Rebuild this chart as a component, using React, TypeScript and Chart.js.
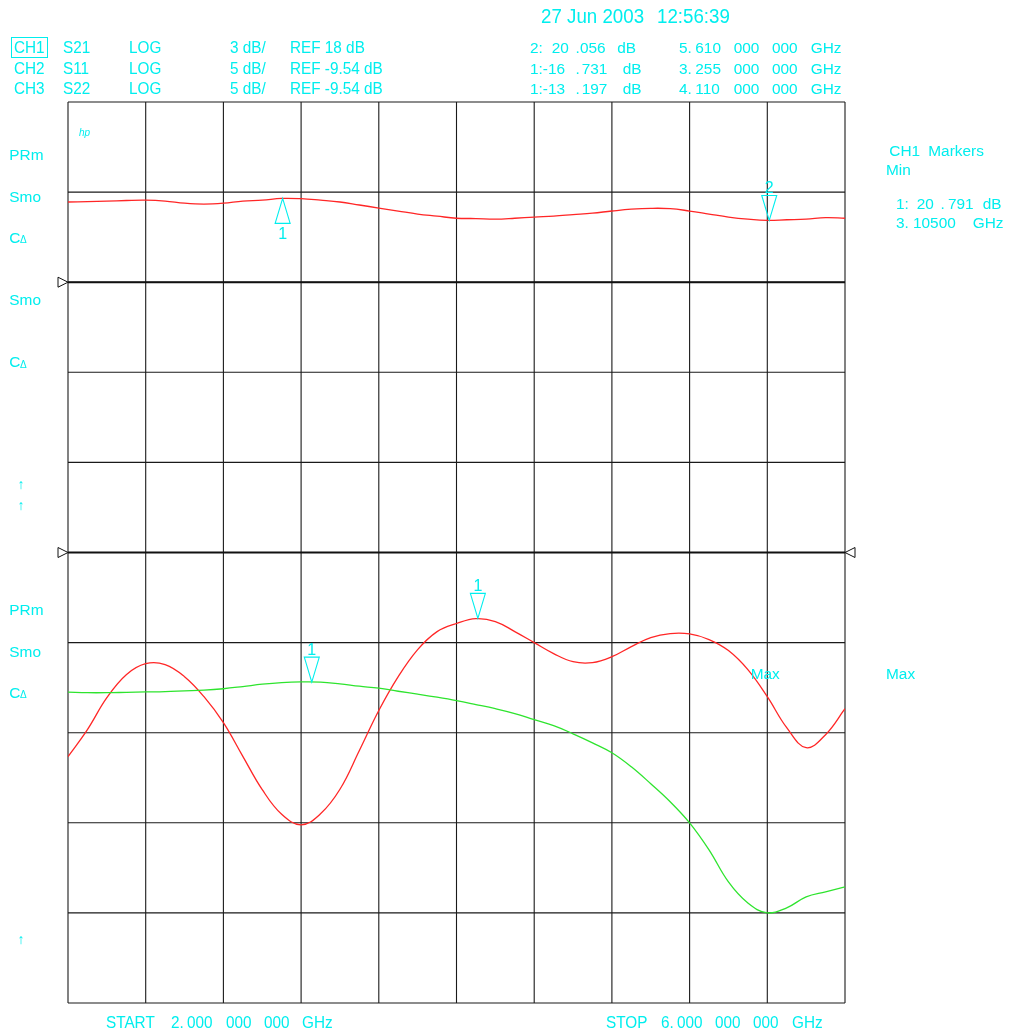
import React, { useEffect, useRef } from "react";
import { Chart, registerables } from "chart.js";

Chart.register(...registerables);

// ---- data ----
const FREQ_GHZ = [
  2.0, 2.1, 2.2, 2.3, 2.4, 2.5, 2.6, 2.7, 2.8, 2.9,
  3.0, 3.1, 3.2, 3.3, 3.4, 3.5, 3.6, 3.7, 3.8, 3.9,
  4.0, 4.1, 4.2, 4.3, 4.4, 4.5, 4.6, 4.7, 4.8, 4.9,
  5.0, 5.1, 5.2, 5.3, 5.4, 5.5, 5.6, 5.7, 5.8, 5.9, 6.0,
];
const CH1_S21_DB = [
  20.67, 20.68, 20.70, 20.72, 20.73, 20.70, 20.63, 20.60, 20.63, 20.70,
  20.73, 20.79, 20.78, 20.73, 20.67, 20.57, 20.47, 20.37, 20.27, 20.20,
  20.13, 20.12, 20.10, 20.13, 20.17, 20.20, 20.25, 20.30, 20.37, 20.43,
  20.46, 20.45, 20.37, 20.27, 20.17, 20.10, 20.06, 20.08, 20.10, 20.15, 20.13,
];
const CH2_S11_DB = [
  -17.29, -17.32, -17.32, -17.30, -17.28, -17.26, -17.22, -17.18, -17.10, -16.98,
  -16.85, -16.76, -16.72, -16.73, -16.83, -16.96, -17.07, -17.24, -17.40, -17.57,
  -17.76, -17.98, -18.21, -18.48, -18.82, -19.15, -19.60, -20.10, -20.65, -21.43,
  -22.37, -23.37, -24.54, -26.04, -27.82, -28.99, -29.54, -29.26, -28.65, -28.37, -28.10,
];
const CH3_S22_DB = [
  -20.87, -19.37, -17.60, -16.32, -15.71, -15.76, -16.43, -17.54, -18.98, -20.85,
  -22.70, -24.07, -24.65, -24.04, -22.68, -20.53, -18.31, -16.43, -14.93, -13.93,
  -13.48, -13.21, -13.37, -13.93, -14.54, -15.15, -15.60, -15.65, -15.32, -14.76,
  -14.26, -14.04, -14.06, -14.37, -14.98, -16.04, -17.54, -19.26, -20.37, -19.65, -18.21,
];
const X_GRID_GHZ = [2.0, 2.4, 2.8, 3.2, 3.6, 4.0, 4.4, 4.8, 5.2, 5.6, 6.0];
const CH1_REF_DB = 18;
const CH1_DB_PER_DIV = 3;
const CH23_REF_DB = -9.54;
const CH23_DB_PER_DIV = 5;
const CH1_GRID_DB = [24, 21, 18, 15, 12, 9, 6, 3, 0, -3, -6];
const MARKERS = [
  { axis: "y1", f: 3.105, db: 20.791, dir: "up", label: "1" },
  { axis: "y1", f: 5.61, db: 20.056, dir: "down", label: "2" },
  { axis: "y2", f: 3.255, db: -16.731, dir: "down", label: "1" },
  { axis: "y2", f: 4.11, db: -13.197, dir: "down", label: "1" },
];

const CYAN = "#00eeee";
const RED = "#ff2626";
const GREEN = "#2ee42e";
const FONT = '"Liberation Sans", Arial, sans-serif';

const gridPlugin = {
  id: "vnaGrid",
  beforeDatasetsDraw(chart: any) {
    const { ctx, chartArea: a, scales } = chart;
    const x = scales.x;
    const y1 = scales.y1;
    const y2 = scales.y2;
    ctx.save();
    ctx.strokeStyle = "#1a1a1a";
    ctx.lineWidth = 1.1;
    for (const v of X_GRID_GHZ) {
      const px = x.getPixelForValue(v);
      ctx.beginPath();
      ctx.moveTo(px, a.top);
      ctx.lineTo(px, a.bottom);
      ctx.stroke();
    }
    for (const v of CH1_GRID_DB) {
      const py = y1.getPixelForValue(v);
      ctx.beginPath();
      ctx.moveTo(a.left, py);
      ctx.lineTo(a.right, py);
      ctx.stroke();
    }
    ctx.lineWidth = 2;
    ctx.strokeStyle = "#111";
    for (const py of [y1.getPixelForValue(CH1_REF_DB), y2.getPixelForValue(CH23_REF_DB)]) {
      ctx.beginPath();
      ctx.moveTo(a.left, py);
      ctx.lineTo(a.right, py);
      ctx.stroke();
    }
    ctx.restore();
  },
  afterDraw(chart: any) {
    const { ctx, chartArea: a, scales } = chart;
    const x = scales.x;
    ctx.save();
    // markers
    ctx.strokeStyle = CYAN;
    ctx.fillStyle = CYAN;
    ctx.lineWidth = 1.1;
    ctx.font = `16px ${FONT}`;
    ctx.textAlign = "center";
    ctx.textBaseline = "alphabetic";
    for (const m of MARKERS) {
      const px = x.getPixelForValue(m.f);
      const py = scales[m.axis].getPixelForValue(m.db);
      ctx.beginPath();
      if (m.dir === "down") {
        ctx.moveTo(px - 7.5, py - 25);
        ctx.lineTo(px + 7.5, py - 25);
        ctx.lineTo(px, py);
        ctx.closePath();
        ctx.stroke();
        ctx.fillText(m.label, px, py - 27);
      } else {
        ctx.moveTo(px - 7.5, py + 25);
        ctx.lineTo(px + 7.5, py + 25);
        ctx.lineTo(px, py);
        ctx.closePath();
        ctx.stroke();
        ctx.fillText(m.label, px, py + 41);
      }
    }
    // reference position triangles
    ctx.strokeStyle = "#111";
    ctx.fillStyle = "#fff";
    ctx.lineWidth = 1;
    const r1 = scales.y1.getPixelForValue(CH1_REF_DB);
    const r2 = scales.y2.getPixelForValue(CH23_REF_DB);
    const tri = (ax: number, ay: number, dx: number) => {
      ctx.beginPath();
      ctx.moveTo(ax, ay);
      ctx.lineTo(ax + dx, ay - 5);
      ctx.lineTo(ax + dx, ay + 5);
      ctx.closePath();
      ctx.fill();
      ctx.stroke();
    };
    tri(a.left, r1, -10);
    tri(a.left, r2, -10);
    tri(a.right, r2, 10);
    ctx.restore();
  },
};

function T(props: { x: number; y: number; s?: number; sx?: number; italic?: boolean; children: any }) {
  const s = props.s ?? 15.4;
  const sx = props.sx ?? 1;
  return (
    <span
      style={{
        position: "absolute",
        left: props.x,
        top: props.y - 0.1305 * s,
        fontSize: s,
        lineHeight: `${s}px`,
        fontFamily: FONT,
        fontStyle: props.italic ? "italic" : "normal",
        color: CYAN,
        whiteSpace: "pre",
        transform: sx !== 1 ? `scaleX(${sx})` : undefined,
        transformOrigin: "left top",
      }}
    >
      {props.children}
    </span>
  );
}

export default function App() {
  const ref = useRef<HTMLCanvasElement | null>(null);

  useEffect(() => {
    if (!ref.current) return;
    const mk = (vals: number[]) => FREQ_GHZ.map((f, i) => ({ x: f, y: vals[i] }));
    const common = { borderWidth: 1.3, pointRadius: 0, tension: 0.4, fill: false };
    const chart = new Chart(ref.current, {
      type: "line",
      data: {
        datasets: [
          { label: "CH1 S21", data: mk(CH1_S21_DB), yAxisID: "y1", borderColor: RED, ...common },
          { label: "CH2 S11", data: mk(CH2_S11_DB), yAxisID: "y2", borderColor: GREEN, ...common },
          { label: "CH3 S22", data: mk(CH3_S22_DB), yAxisID: "y2", borderColor: RED, ...common },
        ],
      },
      options: {
        animation: false,
        responsive: false,
        devicePixelRatio: 1,
        layout: { padding: { left: 68, top: 102, right: 165, bottom: 31 } },
        plugins: { legend: { display: false }, tooltip: { enabled: false } },
        events: [],
        scales: {
          x: { type: "linear", min: 2, max: 6, display: false },
          y1: {
            type: "linear",
            min: CH1_REF_DB - 8 * CH1_DB_PER_DIV,
            max: CH1_REF_DB + 2 * CH1_DB_PER_DIV,
            display: false,
          },
          y2: {
            type: "linear",
            min: CH23_REF_DB - 5 * CH23_DB_PER_DIV,
            max: CH23_REF_DB + 5 * CH23_DB_PER_DIV,
            display: false,
          },
        },
      },
      plugins: [gridPlugin],
    } as any);
    return () => chart.destroy();
  }, []);

  const H = 17;
  const HX = 0.9;
  return (
    <div style={{ position: "absolute", left: 0, top: 0, width: 1010, height: 1034, background: "#fff", overflow: "hidden" }}>
      <canvas ref={ref} width={1010} height={1034} style={{ position: "absolute", left: 0, top: 0, width: 1010, height: 1034 }} />

      {/* date */}
      <T x={540.7} y={9.3} s={19.5} sx={0.96}>27 Jun 2003</T>
      <T x={656.7} y={9.3} s={19.5} sx={0.96}>12:56:39</T>

      {/* channel header */}
      <div style={{ position: "absolute", left: 10.5, top: 36.5, width: 35, height: 19.5, border: `1px solid ${CYAN}` }} />
      <T x={14} y={41.7} s={H} sx={HX}>CH1</T>
      <T x={63.3} y={41.7} s={H} sx={HX}>S21</T>
      <T x={129} y={41.7} s={H} sx={HX}>LOG</T>
      <T x={230} y={41.7} s={H} sx={HX}>3 dB/</T>
      <T x={290} y={41.7} s={H} sx={HX}>REF 18 dB</T>

      <T x={14} y={62.3} s={H} sx={HX}>CH2</T>
      <T x={63.3} y={62.3} s={H} sx={HX}>S11</T>
      <T x={129} y={62.3} s={H} sx={HX}>LOG</T>
      <T x={230} y={62.3} s={H} sx={HX}>5 dB/</T>
      <T x={290} y={62.3} s={H} sx={HX}>REF -9.54 dB</T>

      <T x={14} y={82.3} s={H} sx={HX}>CH3</T>
      <T x={63.3} y={82.3} s={H} sx={HX}>S22</T>
      <T x={129} y={82.3} s={H} sx={HX}>LOG</T>
      <T x={230} y={82.3} s={H} sx={HX}>5 dB/</T>
      <T x={290} y={82.3} s={H} sx={HX}>REF -9.54 dB</T>

      {/* marker readouts */}
      <T x={530} y={42.3}>2:</T>
      <T x={551.7} y={42.3}>20</T>
      <T x={575.5} y={42.3}>.</T>
      <T x={580} y={42.3}>056</T>
      <T x={617.3} y={42.3}>dB</T>
      <T x={679} y={42.3}>5.</T>
      <T x={695.3} y={42.3}>610</T>
      <T x={733.7} y={42.3}>000</T>
      <T x={772} y={42.3}>000</T>
      <T x={810.7} y={42.3}>GHz</T>

      <T x={530} y={62.7}>1:-16</T>
      <T x={575.5} y={62.7}>.</T>
      <T x={581.7} y={62.7}>731</T>
      <T x={622.7} y={62.7}>dB</T>
      <T x={679} y={62.7}>3.</T>
      <T x={695.3} y={62.7}>255</T>
      <T x={733.7} y={62.7}>000</T>
      <T x={772} y={62.7}>000</T>
      <T x={810.7} y={62.7}>GHz</T>

      <T x={530} y={82.7}>1:-13</T>
      <T x={575.5} y={82.7}>.</T>
      <T x={581.7} y={82.7}>197</T>
      <T x={622.7} y={82.7}>dB</T>
      <T x={679} y={82.7}>4.</T>
      <T x={695.3} y={82.7}>110</T>
      <T x={733.7} y={82.7}>000</T>
      <T x={772} y={82.7}>000</T>
      <T x={810.7} y={82.7}>GHz</T>

      {/* hp logo */}
      <T x={79} y={129.5} s={10} italic>hp</T>

      {/* left softkey labels */}
      <T x={9.3} y={149}>PRm</T>
      <T x={9.3} y={190.7}>Smo</T>
      <T x={9.3} y={231.7}>C</T>
      <T x={20} y={236.6} s={10}>Δ</T>
      <T x={9.3} y={294}>Smo</T>
      <T x={9.3} y={356}>C</T>
      <T x={20} y={360.9} s={10}>Δ</T>
      <T x={17.5} y={479.3} s={14}>↑</T>
      <T x={17.5} y={500} s={14}>↑</T>
      <T x={9.3} y={604}>PRm</T>
      <T x={9.3} y={646}>Smo</T>
      <T x={9.3} y={686.7}>C</T>
      <T x={20} y={691.6} s={10}>Δ</T>
      <T x={17.5} y={934.3} s={14}>↑</T>

      {/* right side */}
      <T x={889.3} y={145}>CH1</T>
      <T x={928.3} y={145}>Markers</T>
      <T x={886} y={164}>Min</T>
      <T x={896} y={198.3}>1:</T>
      <T x={916.7} y={198.3}>20</T>
      <T x={940.5} y={198.3}>.</T>
      <T x={948} y={198.3}>791</T>
      <T x={982.7} y={198.3}>dB</T>
      <T x={896} y={216.7}>3.</T>
      <T x={913} y={216.7}>10500</T>
      <T x={972.7} y={216.7}>GHz</T>
      <T x={750.7} y={667.7}>Max</T>
      <T x={886} y={667.7}>Max</T>

      {/* start / stop */}
      <T x={106} y={1016} s={H} sx={HX}>START</T>
      <T x={171} y={1016} s={H} sx={HX}>2.</T>
      <T x={186.7} y={1016} s={H} sx={HX}>000</T>
      <T x={225.7} y={1016} s={H} sx={HX}>000</T>
      <T x={264} y={1016} s={H} sx={HX}>000</T>
      <T x={302.3} y={1016} s={H} sx={HX}>GHz</T>
      <T x={605.7} y={1016} s={H} sx={HX}>STOP</T>
      <T x={660.7} y={1016} s={H} sx={HX}>6.</T>
      <T x={676.7} y={1016} s={H} sx={HX}>000</T>
      <T x={715.3} y={1016} s={H} sx={HX}>000</T>
      <T x={753.3} y={1016} s={H} sx={HX}>000</T>
      <T x={792.3} y={1016} s={H} sx={HX}>GHz</T>
    </div>
  );
}
